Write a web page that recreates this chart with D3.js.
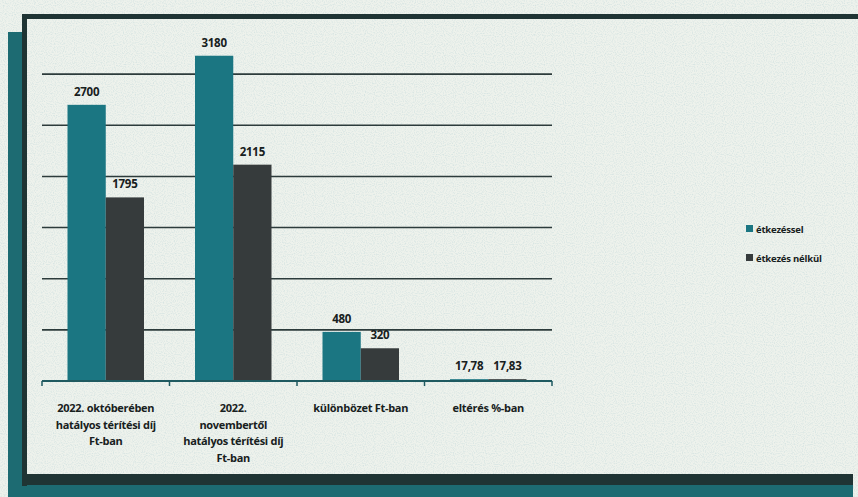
<!DOCTYPE html>
<html>
<head>
<meta charset="utf-8">
<script src="https://cdn.jsdelivr.net/npm/d3@7"></script>
<style>
  body { margin: 0; background: #eef2ec; }
  svg { display: block; }
  text { font-family: "Open Sans", "Liberation Sans", sans-serif; font-weight: bold; fill: #172020; }
</style>
</head>
<body>
<script>
// chart values
var categories = [
  ["2022. októberében", "hatályos térítési díj", "Ft-ban"],
  ["2022.", "novembertől", "hatályos térítési díj", "Ft-ban"],
  ["különbözet Ft-ban"],
  ["eltérés %-ban"]
];
var seriesNames = ["étkezéssel", "étkezés nélkül"];
var withMeal = [2700, 3180, 480, 17.78];
var withoutMeal = [1795, 2115, 320, 17.83];
var withMealLabels = ["2700", "3180", "480", "17,78"];
var withoutMealLabels = ["1795", "2115", "320", "17,83"];
var gridTicks = [500, 1000, 1500, 2000, 2500, 3000];

var width = 858, height = 497;
var colors = ["#1b7682", "#363b3c"];

var svg = d3.select("body").append("svg")
  .attr("width", width)
  .attr("height", height);

// paper texture
var defs = svg.append("defs");
var f = defs.append("filter").attr("id", "paper").attr("x", 0).attr("y", 0).attr("width", "100%").attr("height", "100%");
f.append("feTurbulence").attr("type", "fractalNoise").attr("baseFrequency", 0.9).attr("numOctaves", 1).attr("seed", 3).attr("result", "n");
f.append("feColorMatrix").attr("in", "n").attr("type", "matrix")
  .attr("values", "0 0 0 0 0.35  0 0 0 0 0.55  0 0 0 0 0.6  0 0 0 -2.2 1.25");

svg.append("rect").attr("width", width).attr("height", height).attr("fill", "#eef2ec");
svg.append("rect").attr("width", width).attr("height", height).attr("filter", "url(#paper)").attr("opacity", 0.35);

// frame
svg.append("rect").attr("x", 8).attr("y", 32).attr("width", 15).attr("height", 465).attr("fill", "#1d6b72");
svg.append("rect").attr("x", 8).attr("y", 484).attr("width", 845).attr("height", 13).attr("fill", "#1d6b72");
svg.append("rect").attr("x", 22).attr("y", 14).attr("width", 836).attr("height", 5).attr("fill", "#1f3434");
svg.append("rect").attr("x", 22).attr("y", 14).attr("width", 5).attr("height", 472).attr("fill", "#1f3434");
svg.append("rect").attr("x", 22).attr("y", 474).attr("width", 831).attr("height", 11).attr("fill", "#1f3434");

// scales
var x0 = d3.scaleBand()
  .domain(d3.range(categories.length))
  .range([42, 552])
  .paddingInner(0).paddingOuter(0);

var x1 = d3.scaleBand()
  .domain(d3.range(2))
  .range([x0.bandwidth() * 0.2, x0.bandwidth() * 0.8]);

var y = d3.scaleLinear()
  .domain([0, 3500])
  .range([381, 23]);

// gridlines
svg.append("g")
  .selectAll("line")
  .data(gridTicks)
  .enter().append("line")
  .attr("x1", 42).attr("x2", 552)
  .attr("y1", function(d){ return y(d); })
  .attr("y2", function(d){ return y(d); })
  .attr("stroke", "#2c3b3b")
  .attr("stroke-width", 1.6);

// bars
var series = [withMeal, withoutMeal];
var labels = [withMealLabels, withoutMealLabels];

series.forEach(function(vals, s){
  var g = svg.append("g");
  g.selectAll("rect")
    .data(vals)
    .enter().append("rect")
    .attr("x", function(d, i){ return x0(i) + x1(s); })
    .attr("y", function(d){ return y(d); })
    .attr("width", x1.bandwidth())
    .attr("height", function(d){ return y(0) - y(d); })
    .attr("fill", colors[s]);

  g.selectAll("text")
    .data(vals)
    .enter().append("text")
    .attr("x", function(d, i){ return x0(i) + x1(s) + x1.bandwidth() / 2; })
    .attr("y", function(d){ return y(d) - 9; })
    .attr("text-anchor", "middle")
    .attr("font-size", 11.5)
    .attr("letter-spacing", -0.3)
    .text(function(d, i){ return labels[s][i]; });
});

// x axis
var xAxis = svg.append("g").attr("transform", "translate(0,381)");
xAxis.append("line")
  .attr("x1", 42).attr("x2", 552)
  .attr("stroke", "#1f5a60").attr("stroke-width", 2);
xAxis.selectAll(".tick")
  .data(d3.range(categories.length + 1))
  .enter().append("line")
  .attr("x1", function(d){ return 42 + d * x0.step(); })
  .attr("x2", function(d){ return 42 + d * x0.step(); })
  .attr("y1", 0).attr("y2", 5)
  .attr("stroke", "#1f5a60").attr("stroke-width", 1.5);

xAxis.selectAll(".cat")
  .data(categories)
  .enter().append("text")
  .attr("text-anchor", "middle")
  .attr("font-size", 11)
  .attr("letter-spacing", -0.3)
  .attr("transform", function(d, i){ return "translate(" + (x0(i) + x0.bandwidth() / 2) + ",31)"; })
  .each(function(lines){
    var t = d3.select(this);
    lines.forEach(function(l, k){
      t.append("tspan").attr("x", 0).attr("dy", k === 0 ? 0 : 16.5).text(l);
    });
  });

// legend
var legend = svg.append("g").attr("transform", "translate(746,229)");
seriesNames.forEach(function(name, i){
  var row = legend.append("g").attr("transform", "translate(0," + (i * 29) + ")");
  row.append("rect").attr("x", 0).attr("y", -4).attr("width", 7).attr("height", 7).attr("fill", colors[i]);
  row.append("text").attr("x", 10).attr("y", 3.5).attr("font-size", 9.5).attr("letter-spacing", -0.2).text(name);
});
</script>
</body>
</html>
